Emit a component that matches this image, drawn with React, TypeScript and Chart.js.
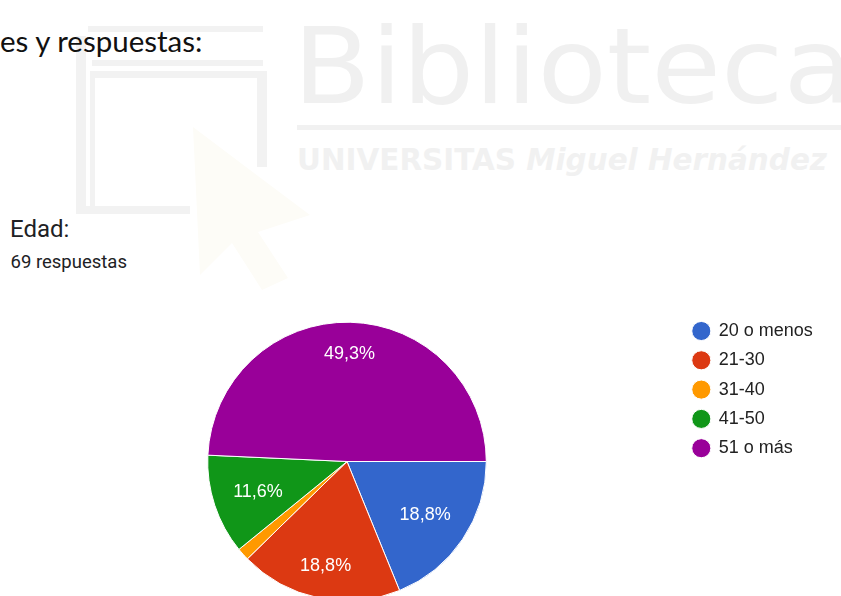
import React, { useEffect, useRef } from "react";
import { Chart, registerables } from "chart.js";

Chart.register(...registerables);

// ---- data ----
const categories: string[] = ["20 o menos", "21-30", "31-40", "41-50", "51 o más"];
const responses: number[] = [13, 13, 1, 8, 34];
const sliceColors: string[] = ["#3366cc", "#dc3912", "#ff9900", "#109618", "#990099"];
const headerText = "es y respuestas:";
const questionTitle = "Edad:";
const responseLabel = "69 respuestas";
const watermarkTitle = "Biblioteca";
const watermarkSubA = "UNIVERSITAS";
const watermarkSubB = " Miguel Hernández";

// ---- layout / style ----
const W = 841;
const H = 596;
const CANVAS_H = 630;
const FONT = "Arial, 'Liberation Sans', Helvetica, sans-serif";
const LEGEND_FONT_SIZE = 18;
const LEGEND_PAD = 11.3;
const BOX_W = 17;
const BOX_H = 13.5;
const PIE_CX = 347;
const PIE_CY = 461.5;
const PIE_R = 139.3;
const LEGEND_LEFT = 681.5;
const AREA_TOP = 310.7;

const sliceLabelPlugin = {
  id: "sliceLabels",
  afterDatasetsDraw(chart: any) {
    const ctx = chart.ctx as CanvasRenderingContext2D;
    const meta = chart.getDatasetMeta(0);
    const data = chart.data.datasets[0].data as number[];
    const total = data.reduce((a, b) => a + b, 0);
    ctx.save();
    ctx.font = `18px ${FONT}`;
    ctx.fillStyle = "#ffffff";
    ctx.textAlign = "center";
    ctx.textBaseline = "alphabetic";
    meta.data.forEach((arc: any, i: number) => {
      const frac = data[i] / total;
      if (frac < 0.05) return;
      const { x, y, startAngle, endAngle, outerRadius } = arc.getProps(
        ["x", "y", "startAngle", "endAngle", "outerRadius"],
        true
      );
      const mid = (startAngle + endAngle) / 2;
      const ux = Math.cos(mid);
      const uy = Math.sin(mid);
      const text = (frac * 100).toFixed(1).replace(".", ",") + "%";
      const hw = ctx.measureText(text).width / 2;
      const hh = 7;
      const R = outerRadius * 0.858;
      const b = Math.abs(ux) * hw + Math.abs(uy) * hh;
      const c = hw * hw + hh * hh - R * R;
      const d = -b + Math.sqrt(b * b - c);
      ctx.fillText(text, x + ux * d, y + uy * d + 6.4);
    });
    ctx.restore();
  },
};

function PieChart() {
  const ref = useRef<HTMLCanvasElement | null>(null);
  useEffect(() => {
    const canvas = ref.current;
    if (!canvas) return;
    const m = document.createElement("canvas").getContext("2d")!;
    m.font = `normal ${LEGEND_FONT_SIZE}px ${FONT}`;
    const tw = Math.max(...categories.map((c) => m.measureText(c).width));
    const legendWidth = LEGEND_PAD + BOX_W + LEGEND_FONT_SIZE / 2 + tw + 10;
    const rightPad = W - LEGEND_LEFT - legendWidth;
    const leftPad = 2 * PIE_CX - LEGEND_LEFT;
    const bottomPad = CANVAS_H - (2 * PIE_CY - AREA_TOP);

    const chart = new Chart(canvas, {
      type: "pie",
      data: {
        labels: categories,
        datasets: [
          {
            data: responses,
            backgroundColor: sliceColors,
            borderColor: "#ffffff",
            borderWidth: 1,
            hoverOffset: 0,
          },
        ],
      },
      options: {
        responsive: false,
        animation: false,
        events: [],
        rotation: 90,
        radius: PIE_R,
        layout: {
          padding: { left: leftPad, right: rightPad, top: AREA_TOP, bottom: bottomPad },
        },
        plugins: {
          legend: {
            position: "right",
            align: "start",
            labels: {
              usePointStyle: true,
              pointStyle: "circle",
              boxWidth: BOX_W,
              boxHeight: BOX_H,
              padding: LEGEND_PAD,
              color: "#222222",
              font: { size: LEGEND_FONT_SIZE, family: FONT },
            },
          },
          tooltip: { enabled: false },
        },
      } as any,
      plugins: [sliceLabelPlugin],
    });
    return () => chart.destroy();
  }, []);
  return (
    <canvas
      ref={ref}
      width={W}
      height={CANVAS_H}
      style={{ position: "absolute", left: 0, top: 0, width: W, height: CANVAS_H }}
    />
  );
}

export default function App() {
  return (
    <div
      style={{
        position: "absolute",
        left: 0,
        top: 0,
        width: W,
        height: H,
        overflow: "hidden",
        background: "#ffffff",
      }}
    >
      <svg width={W} height={H} style={{ position: "absolute", left: 0, top: 0 }}>
        <g fill="#f2f2f2">
          <rect x={88} y={26} width={175} height={6} />
          <rect x={92} y={60} width={171} height={6} />
          <rect x={76} y={36} width={10} height={178} />
          <rect x={90} y={71} width={177} height={7} />
          <rect x={90} y={71} width={5} height={142} />
          <rect x={257} y={71} width={10} height={96} />
          <rect x={80} y={206} width={110} height={8} />
        </g>
        <polygon
          points="193,127 200,275 232,243 262,290 288,278 258,232 310,215"
          fill="#fdfcf7"
        />
        <text
          x={293}
          y={103}
          fontFamily="'DejaVu Sans', sans-serif"
          fontSize={106}
          fill="#f0f0f0"
          textLength={560}
          lengthAdjust="spacingAndGlyphs"
        >
          {watermarkTitle}
        </text>
        <rect x={297} y={125} width={544} height={5} fill="#f1f1f1" />
        <text
          x={297}
          y={170}
          fontFamily="'DejaVu Sans', sans-serif"
          fontWeight="bold"
          fontSize={31}
          fill="#f1f1f1"
          textLength={530}
          lengthAdjust="spacingAndGlyphs"
        >
          <tspan>{watermarkSubA}</tspan>
          <tspan fontStyle="italic">{watermarkSubB}</tspan>
        </text>
        <text x={0} y={52} fontFamily="Lato, Carlito, sans-serif" fontSize={29.5} fill="#111111">
          {headerText}
        </text>
        <text x={10} y={236.7} fontFamily="Roboto, sans-serif" fontSize={24} fill="#202124">
          {questionTitle}
        </text>
        <text x={10.5} y={268.3} fontFamily="Roboto, sans-serif" fontSize={18.5} fill="#202124">
          {responseLabel}
        </text>
      </svg>
      <PieChart />
    </div>
  );
}
